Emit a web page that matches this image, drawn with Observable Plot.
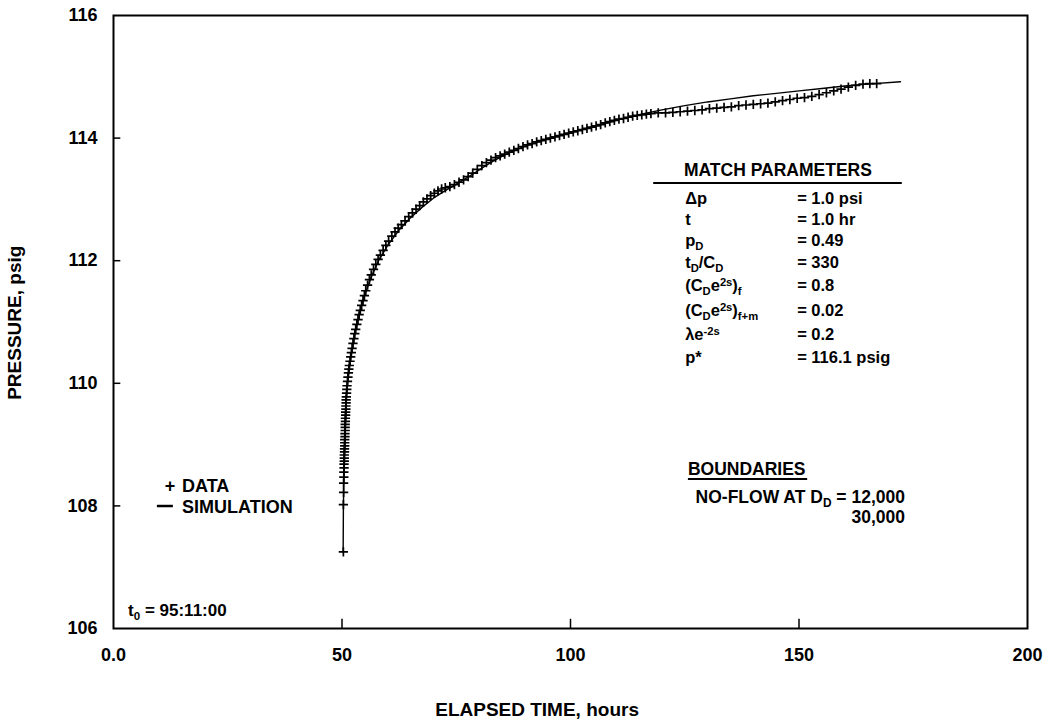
<!DOCTYPE html>
<html><head><meta charset="utf-8">
<script src="https://cdn.jsdelivr.net/npm/d3@7"></script>
<script src="https://cdn.jsdelivr.net/npm/@observablehq/plot@0.6"></script>
<style>body{margin:0;background:#fff} svg{display:block}</style>
</head><body><div id="chart"></div>
<script>
// ---- data ----
const dataT = [50.3,50.3,50.35,50.35,50.4,50.4,50.45,50.45,50.5,50.5,50.5,50.55,50.55,50.6,50.6,50.6,50.65,50.65,50.7,50.7,50.7,50.75,50.75,50.8,50.8,50.85,50.85,50.9,50.9,50.95,51.0,51.05,51.1,51.2,51.3,51.4,51.5,51.6,51.75,51.9,52.05,52.2,52.4,52.6,52.8,53.0,53.25,53.5,53.75,54.0,54.3,54.6,54.9,55.2,55.6,56.0,56.4,56.9,57.4,57.9,58.4,59.0,59.6,60.2,60.9,61.6,62.3,63.0,63.8,64.6,65.4,66.2,67.0,67.8,68.6,69.4,70.2,71.0,71.8,72.6,73.6,74.6,75.6,76.6,77.6,78.6,79.6,80.6,81.6,82.6,83.6,84.6,85.6,86.6,87.6,88.6,89.6,90.6,91.6,92.6,93.6,94.6,95.6,96.6,97.6,98.6,99.6,100.6,101.6,102.6,103.6,104.6,105.6,106.6,107.6,108.6,109.6,110.6,111.6,112.6,113.6,114.6,115.6,116.6,117.6,119.2,120.8,122.4,124.0,125.6,127.2,128.8,130.4,132.0,133.6,135.2,136.8,138.4,140.0,141.6,143.2,144.8,146.4,148.0,149.6,151.2,152.8,154.4,156.0,157.6,159.2,160.8,162.4,164.0,165.5,167.0];
const dataP = [107.25,108.02,108.22,108.37,108.47,108.55,108.62,108.68,108.73,108.78,108.83,108.88,108.93,108.98,109.03,109.08,109.13,109.18,109.23,109.28,109.33,109.38,109.43,109.48,109.53,109.58,109.63,109.68,109.73,109.78,109.84,109.90,109.96,110.03,110.10,110.17,110.23,110.29,110.36,110.43,110.50,110.57,110.65,110.73,110.81,110.88,110.96,111.04,111.12,111.19,111.27,111.35,111.43,111.51,111.60,111.69,111.77,111.86,111.94,112.02,112.09,112.17,112.25,112.32,112.40,112.47,112.53,112.59,112.65,112.72,112.78,112.84,112.90,112.96,113.01,113.06,113.10,113.14,113.17,113.19,113.21,113.24,113.28,113.32,113.37,113.43,113.49,113.55,113.60,113.64,113.68,113.71,113.74,113.77,113.80,113.83,113.86,113.89,113.91,113.94,113.96,113.98,114.00,114.02,114.04,114.06,114.08,114.10,114.12,114.14,114.16,114.18,114.20,114.22,114.25,114.27,114.29,114.31,114.32,114.34,114.36,114.37,114.38,114.39,114.40,114.41,114.41,114.42,114.43,114.44,114.45,114.46,114.48,114.49,114.50,114.51,114.53,114.54,114.55,114.56,114.57,114.59,114.61,114.63,114.65,114.66,114.68,114.71,114.74,114.77,114.80,114.83,114.86,114.88,114.89,114.89];
const simT = [50.25,50.3,50.4,50.55,50.75,51.0,51.4,52.0,52.8,53.8,55.0,56.5,58.0,60.0,62.5,65.0,67.5,70.0,72.5,75.0,77.5,80.0,82.5,85.0,87.5,90.0,92.5,95.0,97.5,100.0,105.0,110.0,115.0,120.0,125.0,130.0,135.0,140.0,145.0,150.0,155.0,160.0,165.0,172.2];
const simP = [107.24,107.9,108.5,109.0,109.45,109.8,110.12,110.45,110.8,111.15,111.45,111.75,112.0,112.25,112.5,112.7,112.87,113.02,113.14,113.25,113.36,113.48,113.6,113.7,113.79,113.87,113.93,113.99,114.04,114.09,114.19,114.29,114.38,114.46,114.53,114.59,114.64,114.69,114.73,114.77,114.81,114.85,114.88,114.92];
const xTicks = [0, 50, 100, 150, 200];
const xTickLabels = ["0.0", "50", "100", "150", "200"];
const yTicks = [106, 108, 110, 112, 114, 116];
const paramLabels = [
  [["Δp"]],
  [["t"]],
  [["p"], ["D", "sub"]],
  [["t"], ["D", "sub"], ["/C"], ["D", "sub"]],
  [["(C"], ["D", "sub"], ["e"], ["2s", "sup"], [")"], ["f", "sub"]],
  [["(C"], ["D", "sub"], ["e"], ["2s", "sup"], [")"], ["f+m", "sub"]],
  [["λe"], ["-2s", "sup"]],
  [["p*"]]
];
const paramValues = ["= 1.0 psi", "= 1.0 hr", "= 0.49", "= 330", "= 0.8", "= 0.02", "= 0.2", "= 116.1 psig"];

// ---- drawing ----
const FONT = "'Liberation Sans', Arial, Helvetica, sans-serif";
const data = dataT.map((t, i) => ({t, p: dataP[i]}));
const sim = simT.map((t, i) => ({t, p: simP[i]}));

function rich(g, x, y, segs, size, anchor = "start") {
  const t = g.append("text").attr("x", x).attr("y", y).attr("font-size", size).attr("text-anchor", anchor);
  let shift = 0;
  for (const [s, kind] of segs) {
    const target = kind === "sub" ? 0.25 * size : kind === "sup" ? -0.32 * size : 0;
    const sp = t.append("tspan").attr("dy", target - shift).text(s);
    if (kind) sp.attr("font-size", size * 0.68);
    shift = target;
  }
  return t;
}

function annotations(index, {x: X, y: Y}) {
  const g = d3.create("svg:g").attr("font-family", FONT).attr("font-weight", "bold").attr("fill", "black");
  // match parameters block
  rich(g, X(145.5), Y(113.37), [["MATCH PARAMETERS"]], 17.5, "middle");
  g.append("line").attr("x1", X(118.2)).attr("x2", X(172.6)).attr("y1", Y(113.26)).attr("y2", Y(113.26))
    .attr("stroke", "black").attr("stroke-width", 2);
  const rowP = [112.917, 112.574, 112.232, 111.873, 111.498, 111.090, 110.700, 110.325];
  paramLabels.forEach((segs, i) => {
    rich(g, X(125.2), Y(rowP[i]), segs, 16.5);
    rich(g, X(149.7), Y(rowP[i]), [[paramValues[i]]], 16.5);
  });
  // boundaries
  rich(g, X(125.8), Y(108.50), [["BOUNDARIES"]], 17.5);
  g.append("line").attr("x1", X(125.8)).attr("x2", X(151.9)).attr("y1", Y(108.43)).attr("y2", Y(108.43))
    .attr("stroke", "black").attr("stroke-width", 2);
  rich(g, X(173.3), Y(108.04), [["NO-FLOW AT D"], ["D", "sub"], [" = 12,000"]], 17.5, "end");
  rich(g, X(173.3), Y(107.71), [["30,000"]], 17.5, "end");
  // legend
  rich(g, X(12.5), Y(108.22), [["+"]], 18, "middle");
  rich(g, X(15.1), Y(108.22), [["DATA"]], 18);
  g.append("line").attr("x1", X(9.6)).attr("x2", X(13.1)).attr("y1", Y(107.99)).attr("y2", Y(107.99))
    .attr("stroke", "black").attr("stroke-width", 2.5);
  rich(g, X(15.1), Y(107.88), [["SIMULATION"]], 18);
  // t0
  rich(g, X(3.3), Y(106.2), [["t"], ["0", "sub"], [" = 95:11:00"]], 17);
  // axis titles
  rich(g, X(92.8), Y(104.56), [["ELAPSED TIME, hours"]], 19, "middle");
  const yt = rich(g, 0, 0, [["PRESSURE, psig"]], 19, "middle");
  yt.attr("transform", `translate(21,${Y(110.98)}) rotate(-90)`);
  return g.node();
}

const chart = Plot.plot({
  width: 1048, height: 723,
  marginLeft: 113, marginRight: 21, marginTop: 15, marginBottom: 95,
  style: {fontFamily: FONT, fontSize: "18px", fontWeight: "bold", background: "white", color: "black"},
  x: {domain: [0, 200]},
  y: {domain: [106, 116]},
  marks: [
    Plot.axisX(xTicks, {tickSize: 0, tickPadding: 20, label: null,
      tickFormat: (d) => xTickLabels[xTicks.indexOf(d)]}),
    Plot.axisY(yTicks, {tickSize: 0, tickPadding: 16, label: null, tickFormat: (d) => String(d)}),
    Plot.ruleX(xTicks.slice(1, -1), {y1: 106, y2: 106.15, stroke: "black", strokeWidth: 1.5}),
    Plot.ruleY(yTicks.slice(1, -1), {x1: 0, x2: 1.6, stroke: "black", strokeWidth: 1.5}),
    Plot.frame({stroke: "black", strokeWidth: 2}),
    Plot.line(sim, {x: "t", y: "p", stroke: "black", strokeWidth: 1.4}),
    Plot.dot(data, {x: "t", y: "p", symbol: "plus", r: 3.1, stroke: "black", strokeWidth: 1.7}),
    annotations
  ]
});
document.getElementById("chart").append(chart);
</script>
</body></html>
